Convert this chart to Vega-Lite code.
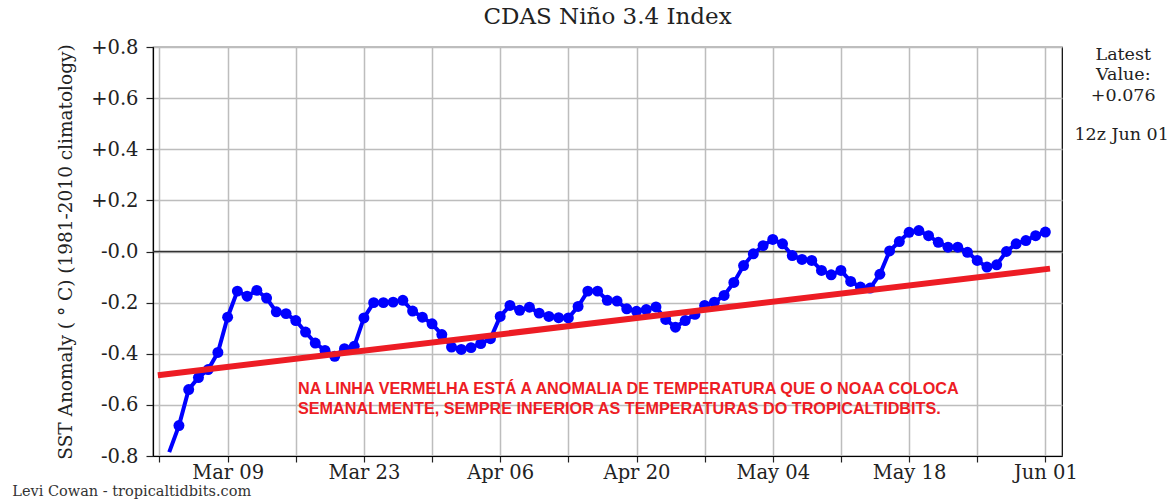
{
  "$schema": "https://vega.github.io/schema/vega-lite/v6.json",
  "width": 909,
  "height": 409,
  "autosize": "none",
  "padding": {"left": 153, "top": 47, "right": 111, "bottom": 45},
  "background": "white",
  "title": {"text": "CDAS Niño 3.4 Index", "font": "DejaVu Serif", "fontSize": 23, "fontWeight": "normal", "color": "#222222", "offset": 8},
  "config": {
    "view": {"stroke": "black", "strokeWidth": 1.2},
    "font": "DejaVu Serif"
  },
  "data": {"values": [
      {"date": "2021-03-03T00:00:00Z", "v": -0.785},
      {"date": "2021-03-04T00:00:00Z", "v": -0.681},
      {"date": "2021-03-05T00:00:00Z", "v": -0.540},
      {"date": "2021-03-06T00:00:00Z", "v": -0.493},
      {"date": "2021-03-07T00:00:00Z", "v": -0.462},
      {"date": "2021-03-08T00:00:00Z", "v": -0.395},
      {"date": "2021-03-09T00:00:00Z", "v": -0.257},
      {"date": "2021-03-10T00:00:00Z", "v": -0.155},
      {"date": "2021-03-11T00:00:00Z", "v": -0.175},
      {"date": "2021-03-12T00:00:00Z", "v": -0.152},
      {"date": "2021-03-13T00:00:00Z", "v": -0.182},
      {"date": "2021-03-14T00:00:00Z", "v": -0.236},
      {"date": "2021-03-15T00:00:00Z", "v": -0.243},
      {"date": "2021-03-16T00:00:00Z", "v": -0.270},
      {"date": "2021-03-17T00:00:00Z", "v": -0.315},
      {"date": "2021-03-18T00:00:00Z", "v": -0.358},
      {"date": "2021-03-19T00:00:00Z", "v": -0.387},
      {"date": "2021-03-20T00:00:00Z", "v": -0.410},
      {"date": "2021-03-21T00:00:00Z", "v": -0.380},
      {"date": "2021-03-22T00:00:00Z", "v": -0.371},
      {"date": "2021-03-23T00:00:00Z", "v": -0.260},
      {"date": "2021-03-24T00:00:00Z", "v": -0.200},
      {"date": "2021-03-25T00:00:00Z", "v": -0.200},
      {"date": "2021-03-26T00:00:00Z", "v": -0.198},
      {"date": "2021-03-27T00:00:00Z", "v": -0.191},
      {"date": "2021-03-28T00:00:00Z", "v": -0.233},
      {"date": "2021-03-29T00:00:00Z", "v": -0.257},
      {"date": "2021-03-30T00:00:00Z", "v": -0.283},
      {"date": "2021-03-31T00:00:00Z", "v": -0.325},
      {"date": "2021-04-01T00:00:00Z", "v": -0.374},
      {"date": "2021-04-02T00:00:00Z", "v": -0.383},
      {"date": "2021-04-03T00:00:00Z", "v": -0.376},
      {"date": "2021-04-04T00:00:00Z", "v": -0.360},
      {"date": "2021-04-05T00:00:00Z", "v": -0.341},
      {"date": "2021-04-06T00:00:00Z", "v": -0.254},
      {"date": "2021-04-07T00:00:00Z", "v": -0.211},
      {"date": "2021-04-08T00:00:00Z", "v": -0.230},
      {"date": "2021-04-09T00:00:00Z", "v": -0.218},
      {"date": "2021-04-10T00:00:00Z", "v": -0.241},
      {"date": "2021-04-11T00:00:00Z", "v": -0.254},
      {"date": "2021-04-12T00:00:00Z", "v": -0.259},
      {"date": "2021-04-13T00:00:00Z", "v": -0.260},
      {"date": "2021-04-14T00:00:00Z", "v": -0.215},
      {"date": "2021-04-15T00:00:00Z", "v": -0.155},
      {"date": "2021-04-16T00:00:00Z", "v": -0.155},
      {"date": "2021-04-17T00:00:00Z", "v": -0.191},
      {"date": "2021-04-18T00:00:00Z", "v": -0.194},
      {"date": "2021-04-19T00:00:00Z", "v": -0.224},
      {"date": "2021-04-20T00:00:00Z", "v": -0.234},
      {"date": "2021-04-21T00:00:00Z", "v": -0.227},
      {"date": "2021-04-22T00:00:00Z", "v": -0.217},
      {"date": "2021-04-23T00:00:00Z", "v": -0.266},
      {"date": "2021-04-24T00:00:00Z", "v": -0.296},
      {"date": "2021-04-25T00:00:00Z", "v": -0.270},
      {"date": "2021-04-26T00:00:00Z", "v": -0.246},
      {"date": "2021-04-27T00:00:00Z", "v": -0.211},
      {"date": "2021-04-28T00:00:00Z", "v": -0.198},
      {"date": "2021-04-29T00:00:00Z", "v": -0.172},
      {"date": "2021-04-30T00:00:00Z", "v": -0.121},
      {"date": "2021-05-01T00:00:00Z", "v": -0.055},
      {"date": "2021-05-02T00:00:00Z", "v": -0.009},
      {"date": "2021-05-03T00:00:00Z", "v": 0.023},
      {"date": "2021-05-04T00:00:00Z", "v": 0.047},
      {"date": "2021-05-05T00:00:00Z", "v": 0.030},
      {"date": "2021-05-06T00:00:00Z", "v": -0.016},
      {"date": "2021-05-07T00:00:00Z", "v": -0.031},
      {"date": "2021-05-08T00:00:00Z", "v": -0.035},
      {"date": "2021-05-09T00:00:00Z", "v": -0.074},
      {"date": "2021-05-10T00:00:00Z", "v": -0.091},
      {"date": "2021-05-11T00:00:00Z", "v": -0.074},
      {"date": "2021-05-12T00:00:00Z", "v": -0.117},
      {"date": "2021-05-13T00:00:00Z", "v": -0.139},
      {"date": "2021-05-14T00:00:00Z", "v": -0.143},
      {"date": "2021-05-15T00:00:00Z", "v": -0.089},
      {"date": "2021-05-16T00:00:00Z", "v": 0.002},
      {"date": "2021-05-17T00:00:00Z", "v": 0.039},
      {"date": "2021-05-18T00:00:00Z", "v": 0.075},
      {"date": "2021-05-19T00:00:00Z", "v": 0.082},
      {"date": "2021-05-20T00:00:00Z", "v": 0.062},
      {"date": "2021-05-21T00:00:00Z", "v": 0.036},
      {"date": "2021-05-22T00:00:00Z", "v": 0.017},
      {"date": "2021-05-23T00:00:00Z", "v": 0.017},
      {"date": "2021-05-24T00:00:00Z", "v": -0.003},
      {"date": "2021-05-25T00:00:00Z", "v": -0.035},
      {"date": "2021-05-26T00:00:00Z", "v": -0.061},
      {"date": "2021-05-27T00:00:00Z", "v": -0.052},
      {"date": "2021-05-28T00:00:00Z", "v": 0.000},
      {"date": "2021-05-29T00:00:00Z", "v": 0.030},
      {"date": "2021-05-30T00:00:00Z", "v": 0.043},
      {"date": "2021-05-31T00:00:00Z", "v": 0.062},
      {"date": "2021-06-01T00:00:00Z", "v": 0.076}
  ]},
  "encoding": {
    "x": {
      "field": "date", "type": "temporal",
      "scale": {"type": "utc", "domain": ["2021-03-01T08:00:00Z", "2021-06-02T17:00:00Z"]},
      "axis": {
        "title": null,
        "values": ["2021-03-02T00:00:00Z", "2021-03-09T00:00:00Z", "2021-03-16T00:00:00Z", "2021-03-23T00:00:00Z", "2021-03-30T00:00:00Z", "2021-04-06T00:00:00Z", "2021-04-13T00:00:00Z", "2021-04-20T00:00:00Z", "2021-04-27T00:00:00Z", "2021-05-04T00:00:00Z", "2021-05-11T00:00:00Z", "2021-05-18T00:00:00Z", "2021-05-25T00:00:00Z", "2021-06-01T00:00:00Z"],
        "labelExpr": "round((toNumber(datum.value) - 1615248000000) / 86400000) % 14 == 0 ? utcFormat(datum.value, '%b %d') : ''",
        "labelFont": "DejaVu Serif", "labelFontSize": 19.5, "labelColor": "#222222",
        "labelPadding": 1, "labelOverlap": false, "labelFlush": false,
        "tickSize": 6, "tickColor": "#222222", "tickWidth": 1.2,
        "domainColor": "black", "domainWidth": 1.2,
        "grid": true, "gridColor": "#bdbdbd", "gridWidth": 1.5
      }
    },
    "y": {
      "field": "v", "type": "quantitative",
      "scale": {"domain": [-0.8, 0.8]},
      "axis": {
        "title": "SST Anomaly ( ° C) (1981-2010 climatology)",
        "titleFont": "DejaVu Serif", "titleFontSize": 18.5, "titleFontWeight": "normal", "titleColor": "#222222", "titlePadding": 15,
        "values": [-0.8, -0.6, -0.4, -0.2, 0, 0.2, 0.4, 0.6, 0.8],
        "labelExpr": "datum.value > 0.001 ? '+' + format(datum.value, '.1f') : '-' + format(abs(datum.value), '.1f')",
        "labelFont": "DejaVu Serif", "labelFontSize": 19.5, "labelColor": "#222222", "labelPadding": 8,
        "labelFlush": false, "labelOverlap": false,
        "tickSize": 7, "tickColor": "#222222", "tickWidth": 1.2,
        "domainColor": "black", "domainWidth": 1.2,
        "grid": true, "gridColor": "#bdbdbd", "gridWidth": 1.5
      }
    }
  },
  "layer": [
    {
      "data": {"values": [
        {"date": "2021-03-01T08:00:00Z", "v": 0},
        {"date": "2021-06-02T17:00:00Z", "v": 0}
      ]},
      "mark": {"type": "line", "color": "#333333", "strokeWidth": 1.5}
    },
    {
      "mark": {"type": "line", "color": "#0000ff", "strokeWidth": 4, "clip": true}
    },
    {
      "transform": [{"filter": "toNumber(datum.date) >= 1614816000000"}],
      "mark": {"type": "point", "filled": true, "color": "#0000ff", "size": 120, "opacity": 1}
    },
    {
      "data": {"values": [
        {"date": "2021-03-01T20:00:00Z", "v": -0.484},
        {"date": "2021-06-01T11:30:00Z", "v": -0.067}
      ]},
      "mark": {"type": "line", "color": "#ed1c24", "strokeWidth": 6}
    },
    {
      "data": {"values": [
        {"date": "2021-03-16T05:30:00Z", "v": -0.538, "t": "NA LINHA VERMELHA ESTÁ A ANOMALIA DE TEMPERATURA QUE O NOAA COLOCA"},
        {"date": "2021-03-16T05:30:00Z", "v": -0.618, "t": "SEMANALMENTE, SEMPRE INFERIOR AS TEMPERATURAS DO TROPICALTIDBITS."}
      ]},
      "mark": {"type": "text", "align": "left", "baseline": "middle", "font": "Liberation Sans", "fontWeight": "bold", "fontSize": 16.2, "color": "#ed1c24"},
      "encoding": {"text": {"field": "t"}}
    },
    {
      "data": {"values": [
        {"date": "2021-06-09T00:00:00Z", "v": 0.770, "t": "Latest"},
        {"date": "2021-06-09T00:00:00Z", "v": 0.691, "t": "Value:"},
        {"date": "2021-06-09T00:00:00Z", "v": 0.609, "t": "+0.076"},
        {"date": "2021-06-08T20:00:00Z", "v": 0.457, "t": "12z Jun 01"}
      ]},
      "mark": {"type": "text", "align": "center", "baseline": "middle", "font": "DejaVu Serif", "fontSize": 17.5, "color": "#222222"},
      "encoding": {"text": {"field": "t"}}
    },
    {
      "data": {"values": [
        {"date": "2021-02-14T21:00:00Z", "v": -0.957, "t": "Levi Cowan - tropicaltidbits.com"}
      ]},
      "mark": {"type": "text", "align": "left", "baseline": "alphabetic", "font": "DejaVu Serif", "fontSize": 14.5, "color": "#333333"},
      "encoding": {"text": {"field": "t"}}
    }
  ]
}
